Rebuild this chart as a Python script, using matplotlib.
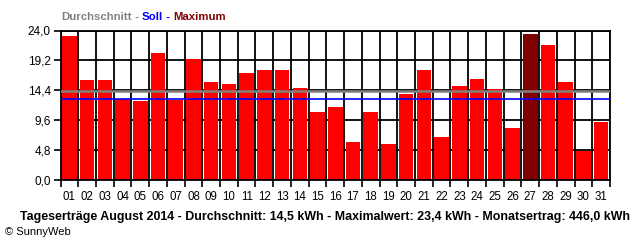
import matplotlib
matplotlib.use('Agg')
import matplotlib.pyplot as plt

days = ['%02d' % d for d in range(1, 32)]
yields = [23.1, 16.1, 16.1, 13.1, 12.7, 20.4, 12.9, 19.4, 15.7, 15.4,
          17.2, 17.7, 17.7, 14.8, 10.9, 11.7, 6.1, 10.9, 5.8, 13.8,
          17.7, 6.9, 15.1, 16.2, 14.6, 8.4, 23.4, 21.7, 15.7, 4.7, 9.4]
average = 14.35
target = 13.1
yticks = [0.0, 4.8, 9.6, 14.4, 19.2, 24.0]
ytick_labels = ['0,0', '4,8', '9,6', '14,4', '19,2', '24,0']
footer = 'Tageserträge August 2014 - Durchschnitt: 14,5 kWh - Maximalwert: 23,4 kWh - Monatsertrag: 446,0 kWh'

plt.rcParams['font.family'] = ['Liberation Sans', 'DejaVu Sans']

W, H = 640, 240
fig = plt.figure(figsize=(W / 100, H / 100), dpi=100)
ax = fig.add_axes([60.5 / W, 1 - 180.3 / H, (610 - 60.5) / W, 149.8 / H])

imax = yields.index(max(yields))
colors = ['#800000' if i == imax else '#ff0000' for i in range(len(yields))]
x = list(range(len(yields)))
ax.bar(x, yields, width=0.82, color=colors, zorder=2)

ax.axhline(average, color='#808080', lw=1.8, zorder=3)
ax.axhline(target, color='#0000ff', lw=1.2, zorder=4)

ax.set_xlim(-0.5, len(yields) - 0.5)
ax.set_ylim(0, 24)

# grid: vertical lines at bar boundaries, horizontal at y ticks
for b in range(len(yields) + 1):
    ax.axvline(b - 0.5, color='black', lw=1.3, zorder=1)
for y in yticks:
    ax.axhline(y, color='black', lw=1.3, zorder=1)

ax.set_yticks(yticks)
ax.set_yticklabels(ytick_labels, fontsize=8.5)
ax.set_xticks([b - 0.5 for b in range(len(yields) + 1)])
ax.set_xticklabels([])
ax.set_xticks(x, minor=True)
ax.set_xticklabels(days, minor=True, fontsize=8.3)
ax.tick_params(axis='x', which='major', length=5, width=1.2, color='black')
ax.tick_params(axis='x', which='minor', length=0, pad=8)
ax.tick_params(axis='y', length=5, width=1.2, pad=2)
for s in ax.spines.values():
    s.set_linewidth(1.3)
    s.set_color('black')

# coloured legend title
fig.canvas.draw()
r = fig.canvas.get_renderer()
parts = [('Durchschnitt', '#808080'), (' - ', '#808080'), ('Soll', '#0000ff'),
         (' - ', '#0000ff'), ('Maximum', '#800000')]
xp = 61 / W
for txt, c in parts:
    t = fig.text(xp, 1 - 17 / H, txt, color=c, fontsize=8.2, fontweight='bold',
                 va='center', ha='left')
    bb = t.get_window_extent(r)
    xp += bb.width / W

# footer, shrunk to the width it has in the reference
ft = fig.text(325 / W, 1 - 217 / H, footer, fontsize=9, fontweight='bold',
              ha='center', va='center')
w = ft.get_window_extent(r).width
ft.set_fontsize(9 * 606 / w)
fig.text(5 / W, 1 - 232 / H, '© SunnyWeb', fontsize=8, ha='left', va='center')

fig.savefig('out.png', dpi=100)
